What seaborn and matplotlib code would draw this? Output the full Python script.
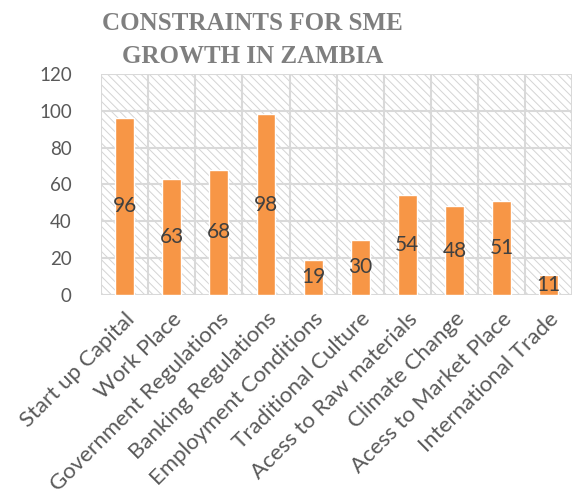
import numpy as np
import pandas as pd
import seaborn as sns
import matplotlib.pyplot as plt
from matplotlib.patches import Rectangle

categories = ["Start up Capital", "Work Place", "Government Regulations",
              "Banking Regulations", "Employment Conditions", "Traditional Culture",
              "Acess to Raw materials", "Climate Change", "Acess to Market Place",
              "International Trade"]
counts = [96, 63, 68, 98, 19, 30, 54, 48, 51, 11]

df = pd.DataFrame({"Constraint": categories, "Count": counts})

sns.set_style("white")
plt.rcParams["font.family"] = ["Lato", "DejaVu Sans"]
plt.rcParams["hatch.linewidth"] = 0.7

fig = plt.figure(figsize=(5.74, 4.99), dpi=100)
ax = fig.add_axes([0.176, 0.409, 0.821, 0.443])

# hatched plot background
ax.add_patch(Rectangle((0, 0), 1, 1, transform=ax.transAxes, facecolor="white",
                       edgecolor="#d4d4d4", hatch="\\\\\\\\", lw=0, zorder=0))

sns.barplot(data=df, x="Constraint", y="Count", color="#F79646", width=0.4,
            saturation=1, ax=ax, zorder=3)

ax.set_ylim(0, 120)
ax.set_xlim(-0.5, len(categories) - 0.5)
ax.set_yticks(range(0, 121, 20))
for y in range(0, 121, 20):
    ax.axhline(y, color="#d9d9d9", lw=1.5, zorder=1)
for x in np.arange(-0.5, len(categories), 1):
    ax.axvline(x, color="#d9d9d9", lw=1.5, zorder=1)

for i, v in enumerate(counts):
    ax.text(i, v / 2, str(v), ha="center", va="center", fontsize=15,
            color="#404040", zorder=4)

for s in ax.spines.values():
    s.set_visible(False)
ax.set_xlabel("")
ax.set_ylabel("")
ax.tick_params(axis="y", labelsize=13.5, labelcolor="#595959", length=0, pad=21)
ax.tick_params(axis="x", labelsize=16, labelcolor="#595959", length=0, pad=10)
plt.setp(ax.get_xticklabels(), rotation=45, ha="right", rotation_mode="anchor")

fig.text(0.44, 0.975, "CONSTRAINTS FOR SME\nGROWTH IN ZAMBIA", ha="center", va="top",
         fontsize=18, fontweight="bold", color="#7f7f7f",
         family="Liberation Serif", linespacing=1.55)

fig.savefig("out.png", dpi=100)
